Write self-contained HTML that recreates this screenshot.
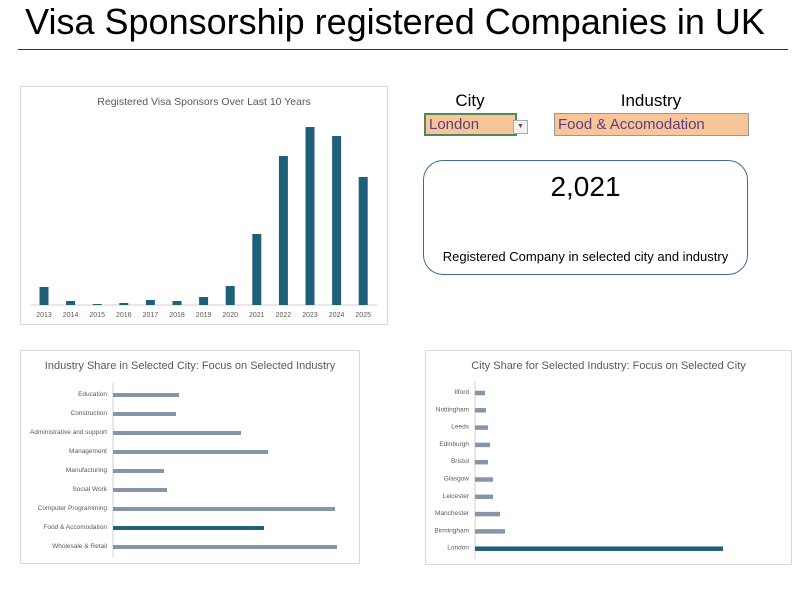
<!DOCTYPE html>
<html><head><meta charset="utf-8">
<style>
body{margin:0;width:800px;height:593px;background:#fff;font-family:"Liberation Sans",sans-serif;position:relative;overflow:hidden}
.abs{position:absolute}
.box{position:absolute;border:1px solid #d9d9d9;background:#fff}
svg text{font-family:"Liberation Sans",sans-serif}
</style></head><body>
<div class="abs" style="left:-5px;width:800px;top:1px;text-align:center;font-size:36px;color:#000">Visa Sponsorship registered Companies in UK</div>
<div class="abs" style="left:18px;top:49px;width:770px;height:1px;background:#333"></div>

<div class="box" style="left:20px;top:86px;width:366px;height:237px"><svg id="c1" width="366" height="237"></svg></div>
<div class="box" style="left:20px;top:350px;width:338px;height:212px"><svg id="c2" width="338" height="212"></svg></div>
<div class="box" style="left:425px;top:350px;width:365px;height:213px"><svg id="c3" width="365" height="213"></svg></div>

<div class="abs" style="left:430px;width:80px;top:91px;text-align:center;font-size:17px">City</div>
<div class="abs" style="left:424px;top:113px;width:86px;height:19px;background:#f8c49a;border:2px solid #4f8a5b;color:#5b3f7a;font-size:15px;line-height:19px;padding-left:3px">London</div>
<div class="abs" style="left:513px;top:120px;width:13px;height:12px;border:1px solid #aaa;background:#f4f4f4;font-size:7px;text-align:center;line-height:12px;color:#555">▼</div>
<div class="abs" style="left:580px;width:142px;top:91px;text-align:center;font-size:17px">Industry</div>
<div class="abs" style="left:554px;top:113px;width:190px;height:21px;background:#f8c49a;border:1px solid #999;color:#5b3f7a;font-size:15px;line-height:21px;padding-left:3px">Food &amp; Accomodation</div>

<div class="abs" style="left:423px;top:160px;width:323px;height:113px;border:1px solid #3a6f8f;border-radius:20px"></div>
<div class="abs" style="left:423px;width:325px;top:171px;text-align:center;font-size:28px">2,021</div>
<div class="abs" style="left:423px;width:325px;top:249px;text-align:center;font-size:13px">Registered Company in selected city and industry</div>

<script>
const years=["2013","2014","2015","2016","2017","2018","2019","2020","2021","2022","2023","2024","2025"];
const yearValues=[18,4,1,2,5,4,8,19,71,149,178,169,128];
const industries=["Education","Construction","Administrative and support","Management","Manufacturing","Social Work","Computer Programming","Food & Accomodation","Wholesale & Retail"];
const industryValues=[66,63,128,155,51,54,222,151,224];
const industrySelected="Food & Accomodation";
const cities=["Ilford","Nottingham","Leeds","Edinburgh","Bristol","Glasgow","Leicester","Manchester","Birmingham","London"];
const cityValues=[10,11,13,15,13,18,18,25,30,248];
const citySelected="London";
const NS="http://www.w3.org/2000/svg";
function mk(svg,tag,a,txt){const e=document.createElementNS(NS,tag);for(const k in a)e.setAttribute(k,a[k]);if(txt!=null)e.textContent=txt;svg.appendChild(e);return e;}
const DARK="#1f5f7a",GRAY="#8696aa";
(function(){const s=document.getElementById('c1');
let t=mk(s,'text',{x:183,y:18,'text-anchor':'middle','font-size':10.5,fill:'#595959'},'Registered Visa Sponsors Over Last 10 Years');


const base=218,x0=23,step=26.6,ymax=178,h=178;
const y=v=>base-v/ymax*h;
let ax=mk(s,'line',{x1:10,x2:356,y1:base,y2:base,stroke:'#d0d0d0'});


years.forEach((yr,i)=>{const cx=x0+i*step;
 const r=mk(s,'rect',{x:cx-4.5,y:y(yearValues[i]),width:9,height:base-y(yearValues[i]),fill:DARK});
 
 
 const l=mk(s,'text',{x:cx,y:base+12,'text-anchor':'middle','font-size':7,fill:'#595959'},yr);
 
 });
})();
function hbar(id,title,cats,vals,sel,axX,y0,step,scale,fs,bh){const s=document.getElementById(id);
 let t=mk(s,'text',{x:s.getAttribute('width')/2,y:18,'text-anchor':'middle','font-size':11,fill:'#595959'},title);
 
 
 let ax=mk(s,'line',{x1:axX,x2:axX,y1:y0-12,y2:y0+step*(cats.length-1)+10,stroke:'#d0d0d0'});
 
 
 cats.forEach((c,i)=>{const cy=y0+i*step;
  const r=mk(s,'rect',{x:axX,y:cy-bh/2,width:vals[i]*scale,height:bh,fill:c===sel?DARK:GRAY});
  
  
  const l=mk(s,'text',{x:axX-6,y:cy+1,'text-anchor':'end','font-size':fs,fill:'#595959'},c);
  
  });
}
hbar('c2','Industry Share in Selected City: Focus on Selected Industry',industries,industryValues,industrySelected,92,44,19,1,6.5,4);
hbar('c3','City Share for Selected Industry: Focus on Selected City',cities,cityValues,citySelected,49,42,17.3,1,6.5,4.5);
</script>
</body></html>
